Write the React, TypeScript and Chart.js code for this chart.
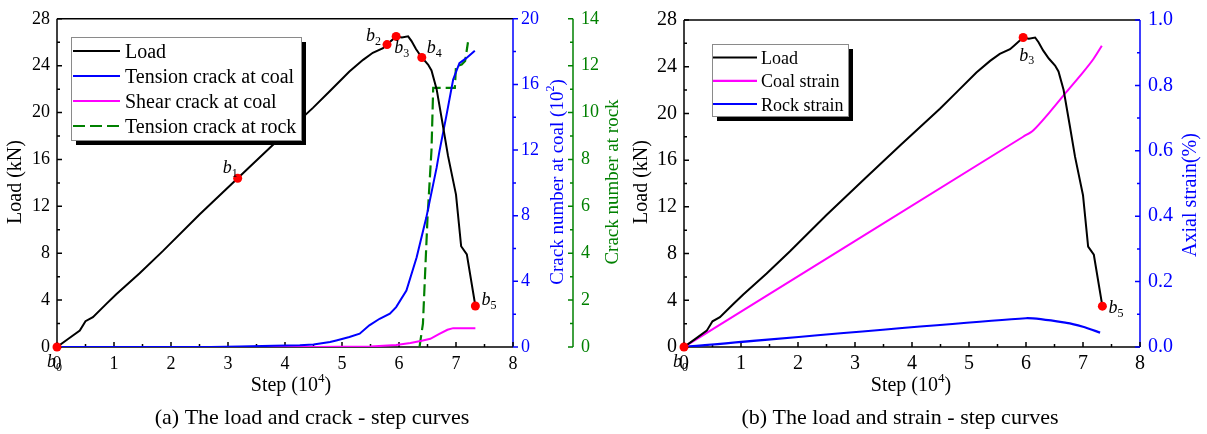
import React, { useEffect, useRef } from "react";
import { Chart, registerables } from "chart.js";

Chart.register(...registerables);

const SERIF = '"Liberation Serif", "Times New Roman", Times, serif';
const BLUE = "#0000ff";
const MAGENTA = "#ff00ff";
const GREEN = "#008000";
const RED = "#ff0000";

// ---------------- data (step in 10^4) ----------------
const loadSteps = [0, 0.2, 0.4, 0.5, 0.63, 0.87, 1.04, 1.45, 1.86, 2.5, 3.17, 3.8, 4.49, 4.78, 5.13, 5.37, 5.54, 5.72, 5.79, 5.95, 6.05, 6.16, 6.22, 6.3, 6.4, 6.51, 6.57, 6.66, 6.77, 6.86, 7.0, 7.09, 7.19, 7.34];
const loadKN = [0, 0.7, 1.4, 2.2, 2.55, 3.7, 4.5, 6.3, 8.2, 11.3, 14.4, 17.3, 20.4, 21.8, 23.5, 24.5, 25.1, 25.5, 25.8, 26.5, 26.4, 26.5, 26.1, 25.4, 24.7, 24.1, 23.6, 22.0, 18.9, 16.3, 13.0, 8.6, 7.9, 3.5];

const coalTensionSteps = [0, 2.7, 3.2, 3.8, 4.26, 4.5, 4.79, 4.9, 5.13, 5.31, 5.48, 5.66, 5.84, 5.95, 6.13, 6.31, 6.48, 6.66, 6.71, 6.83, 6.95, 7.06, 7.18, 7.33];
const coalTensionCount = [0, 0, 0.03, 0.07, 0.1, 0.15, 0.3, 0.4, 0.61, 0.81, 1.32, 1.72, 2.03, 2.43, 3.44, 5.47, 7.9, 10.93, 11.94, 14.07, 16.3, 17.3, 17.6, 18.06];

const coalShearSteps = [0, 4.5, 5.5, 5.95, 6.2, 6.4, 6.55, 6.7, 6.85, 6.95, 7.34];
const coalShearCount = [0, 0, 0.03, 0.12, 0.25, 0.38, 0.5, 0.78, 1.05, 1.15, 1.15];

const rockTensionSteps = [6.36, 6.42, 6.5, 6.57, 6.6, 6.98, 7.0, 7.1, 7.16, 7.21];
const rockTensionCount = [0, 1.0, 5.5, 8.4, 11.05, 11.05, 11.98, 12.05, 12.2, 13.0];

const coalStrainSteps = [0, 5.95, 6.13, 6.42, 6.71, 7.0, 7.18, 7.33];
const coalStrain = [0, 0.643, 0.663, 0.719, 0.78, 0.84, 0.88, 0.921];

const rockStrainSteps = [0, 6.0, 6.71, 7.0, 7.3];
const rockStrain = [0, 0.088, 0.074, 0.062, 0.044];

const keyPointNames = ["0", "1", "2", "3", "4", "5"];
const keyPointSteps = [0, 3.17, 5.79, 5.95, 6.4, 7.34];
const keyPointLoads = [0, 14.4, 25.8, 26.5, 24.7, 3.5];
const rightKeyPoints = [0, 3, 5];

const leftLegendLabels = ["Load", "Tension crack at coal", "Shear crack at coal", "Tension crack at rock"];
const rightLegendLabels = ["Load", "Coal strain", "Rock strain"];

const xy = (xs: number[], ys: number[]) => xs.map((x, i) => ({ x, y: ys[i] }));

// ---------------- drawing helpers ----------------
type Part = { t: string; script?: "sup" | "sub"; italic?: boolean };

function drawRich(ctx: any, parts: Part[], x: number, y: number, size: number, color: string, align: "left" | "center") {
  const small = Math.round(size * 0.65);
  const fontFor = (p: Part) => `${p.italic ? "italic " : ""}${p.script ? small : size}px ${SERIF}`;
  let w = 0;
  const widths = parts.map((p) => {
    ctx.font = fontFor(p);
    const m = ctx.measureText(p.t).width;
    w += m;
    return m;
  });
  let cx = align === "center" ? x - w / 2 : x;
  ctx.fillStyle = color;
  ctx.textAlign = "left";
  ctx.textBaseline = "alphabetic";
  parts.forEach((p, i) => {
    ctx.font = fontFor(p);
    const dy = p.script === "sup" ? -size * 0.45 : p.script === "sub" ? size * 0.22 : 0;
    ctx.fillText(p.t, cx, y + dy);
    cx += widths[i];
  });
}

function drawRotated(ctx: any, parts: Part[], bx: number, cy: number, size: number, color: string) {
  ctx.save();
  ctx.translate(bx, cy);
  ctx.rotate(-Math.PI / 2);
  drawRich(ctx, parts, 0, 0, size, color, "center");
  ctx.restore();
}

function line(ctx: any, x1: number, y1: number, x2: number, y2: number, color: string, w = 1.5) {
  ctx.strokeStyle = color;
  ctx.lineWidth = w;
  ctx.setLineDash([]);
  ctx.beginPath();
  ctx.moveTo(x1, y1);
  ctx.lineTo(x2, y2);
  ctx.stroke();
}

function drawTicks(ctx: any, scale: any, horizontal: boolean, at: number, dir: number, major: number, minor: number, color: string) {
  ctx.strokeStyle = color;
  ctx.lineWidth = 1.5;
  ctx.setLineDash([]);
  const n = Math.round((scale.max - scale.min) / minor);
  ctx.beginPath();
  for (let i = 0; i <= n; i++) {
    const v = scale.min + i * minor;
    const r = v / major;
    const len = Math.abs(r - Math.round(r)) < 1e-6 ? 5 : 3;
    const p = scale.getPixelForValue(v);
    if (horizontal) {
      ctx.moveTo(p, at);
      ctx.lineTo(p, at + dir * len);
    } else {
      ctx.moveTo(at, p);
      ctx.lineTo(at + dir * len, p);
    }
  }
  ctx.stroke();
}

function drawLegend(ctx: any, box: number[], rows: { label: string; color: string; dash?: number[] }[], baselines: number[], lineX: number[], textX: number, size: number) {
  const [bx, by, bw, bh] = box;
  ctx.fillStyle = "#000";
  ctx.fillRect(bx + 5, by + 5, bw, bh);
  ctx.fillStyle = "#fff";
  ctx.fillRect(bx, by, bw, bh);
  ctx.strokeStyle = "#8a8a8a";
  ctx.lineWidth = 1;
  ctx.strokeRect(bx + 0.5, by + 0.5, bw, bh);
  rows.forEach((r, i) => {
    const ly = baselines[i] - 6.5;
    ctx.strokeStyle = r.color;
    ctx.lineWidth = 2.2;
    ctx.setLineDash(r.dash || []);
    ctx.beginPath();
    ctx.moveTo(lineX[0], ly);
    ctx.lineTo(lineX[1], ly);
    ctx.stroke();
    ctx.setLineDash([]);
    drawRich(ctx, [{ t: r.label }], textX, baselines[i], size, "#000", "left");
  });
}

function drawPointLabel(ctx: any, chart: any, idx: number, off: number[]) {
  const px = chart.scales.x.getPixelForValue(keyPointSteps[idx]);
  const py = chart.scales.y.getPixelForValue(keyPointLoads[idx]);
  drawRich(ctx, [{ t: "b", italic: true }, { t: keyPointNames[idx], script: "sub" }], px + off[0], py + off[1], 18, "#000", "left");
}

const noGrid = { display: false, drawTicks: false };
const noBorder = { display: false };

// ---------------- left chart ----------------
const leftLabelOffsets = [[-10, 20], [-15, -5], [-21, -4], [-2, 17], [5, -4], [6, -1]];

const leftDecor = {
  id: "leftDecor",
  beforeDatasetsDraw(chart: any) {
    const ctx = chart.ctx;
    const ca = chart.chartArea;
    const { x, y, y1, y2 } = chart.scales;
    ctx.save();
    line(ctx, ca.left, ca.top, ca.right, ca.top, "#000");
    line(ctx, ca.left, ca.top, ca.left, ca.bottom, "#000");
    line(ctx, ca.left, ca.bottom, ca.right, ca.bottom, "#000");
    line(ctx, ca.right, ca.top, ca.right, ca.bottom, BLUE);
    line(ctx, y2.left, ca.top, y2.left, ca.bottom, GREEN);
    drawTicks(ctx, x, true, ca.bottom, -1, 1, 0.5, "#000");
    drawTicks(ctx, y, false, ca.left, 1, 4, 2, "#000");
    drawTicks(ctx, y1, false, ca.right, 1, 4, 2, BLUE);
    drawTicks(ctx, y2, false, y2.left, -1, 2, 1, GREEN);
    ctx.restore();
  },
  afterDraw(chart: any) {
    const ctx = chart.ctx;
    ctx.save();
    drawRotated(ctx, [{ t: "Load (kN)" }], 21, 182, 20, "#000");
    drawRich(ctx, [{ t: "Step (10" }, { t: "4", script: "sup" }, { t: ")" }], 291, 391, 20, "#000", "center");
    drawRotated(ctx, [{ t: "Crack number at coal (10" }, { t: "2", script: "sup" }, { t: ")" }], 563, 182, 19, BLUE);
    drawRotated(ctx, [{ t: "Crack number at rock" }], 618, 182, 19, GREEN);
    drawLegend(
      ctx,
      [71, 37, 230, 103],
      [
        { label: leftLegendLabels[0], color: "#000" },
        { label: leftLegendLabels[1], color: BLUE },
        { label: leftLegendLabels[2], color: MAGENTA },
        { label: leftLegendLabels[3], color: GREEN, dash: [12, 5] },
      ],
      [57.5, 82.5, 107.5, 132.5],
      [73, 120],
      125,
      20
    );
    keyPointNames.forEach((_, i) => drawPointLabel(ctx, chart, i, leftLabelOffsets[i]));
    drawRich(ctx, [{ t: "(a) The load and crack - step curves" }], 312, 424, 22, "#000", "center");
    ctx.restore();
  },
};

function leftConfig(): any {
  const tickFont = { family: SERIF, size: 18 };
  return {
    type: "line",
    data: {
      datasets: [
        { label: "Key points", data: xy(keyPointSteps, keyPointLoads), yAxisID: "y", showLine: false, pointRadius: 4.5, pointBackgroundColor: RED, pointBorderColor: RED, pointBorderWidth: 0, clip: false, order: -1 },
        { label: leftLegendLabels[0], data: xy(loadSteps, loadKN), yAxisID: "y", borderColor: "#000", borderWidth: 2, pointRadius: 0, tension: 0 },
        { label: leftLegendLabels[1], data: xy(coalTensionSteps, coalTensionCount), yAxisID: "y1", borderColor: BLUE, borderWidth: 2, pointRadius: 0, tension: 0 },
        { label: leftLegendLabels[2], data: xy(coalShearSteps, coalShearCount), yAxisID: "y1", borderColor: MAGENTA, borderWidth: 2, pointRadius: 0, tension: 0 },
        { label: leftLegendLabels[3], data: xy(rockTensionSteps, rockTensionCount), yAxisID: "y2", borderColor: GREEN, borderWidth: 2.2, borderDash: [12, 5], pointRadius: 0, tension: 0 },
      ],
    },
    options: {
      responsive: false,
      animation: false,
      devicePixelRatio: 1,
      events: [],
      layout: { padding: { top: 17, left: 0, right: 0, bottom: 0 } },
      plugins: { legend: { display: false }, tooltip: { enabled: false } },
      scales: {
        x: { type: "linear", position: "bottom", min: 0, max: 8, ticks: { stepSize: 1, color: "#000", font: tickFont, padding: 6, maxRotation: 0 }, grid: noGrid, border: noBorder, afterFit: (s: any) => { s.height = 87; } },
        y: { type: "linear", position: "left", min: 0, max: 28, ticks: { stepSize: 4, color: "#000", font: tickFont, padding: 7 }, grid: noGrid, border: noBorder, afterFit: (s: any) => { s.width = 57; } },
        y1: { type: "linear", position: "right", weight: 0, min: 0, max: 20, ticks: { stepSize: 4, color: BLUE, font: tickFont, padding: 8 }, grid: noGrid, border: noBorder, afterFit: (s: any) => { s.width = 60; } },
        y2: { type: "linear", position: "right", weight: 1, min: 0, max: 14, ticks: { stepSize: 2, color: GREEN, font: tickFont, padding: 8 }, grid: noGrid, border: noBorder, afterFit: (s: any) => { s.width = 53; } },
      },
    },
    plugins: [leftDecor],
  };
}

// ---------------- right chart ----------------
const rightLabelOffsets: Record<number, number[]> = { 0: [-11, 20], 3: [-4, 23], 5: [6, 7] };

const rightDecor = {
  id: "rightDecor",
  beforeDatasetsDraw(chart: any) {
    const ctx = chart.ctx;
    const ca = chart.chartArea;
    const { x, y, y1 } = chart.scales;
    ctx.save();
    line(ctx, ca.left, ca.top, ca.right, ca.top, "#000");
    line(ctx, ca.left, ca.top, ca.left, ca.bottom, "#000");
    line(ctx, ca.left, ca.bottom, ca.right, ca.bottom, "#000");
    line(ctx, ca.right, ca.top, ca.right, ca.bottom, BLUE);
    drawTicks(ctx, x, true, ca.bottom, -1, 1, 0.5, "#000");
    drawTicks(ctx, y, false, ca.left, 1, 4, 2, "#000");
    drawTicks(ctx, y1, false, ca.right, -1, 0.2, 0.1, BLUE);
    ctx.restore();
  },
  afterDraw(chart: any) {
    const ctx = chart.ctx;
    ctx.save();
    drawRotated(ctx, [{ t: "Load (kN)" }], 21, 182, 20, "#000");
    drawRich(ctx, [{ t: "Step (10" }, { t: "4", script: "sup" }, { t: ")" }], 285, 391, 20, "#000", "center");
    drawRotated(ctx, [{ t: "Axial strain(%)" }], 570, 195, 20, BLUE);
    drawLegend(
      ctx,
      [86, 44, 136, 72],
      [
        { label: rightLegendLabels[0], color: "#000" },
        { label: rightLegendLabels[1], color: MAGENTA },
        { label: rightLegendLabels[2], color: BLUE },
      ],
      [64, 87.3, 110.5],
      [87, 131],
      135,
      18
    );
    rightKeyPoints.forEach((i) => drawPointLabel(ctx, chart, i, rightLabelOffsets[i]));
    drawRich(ctx, [{ t: "(b) The load and strain - step curves" }], 274, 424, 22, "#000", "center");
    ctx.restore();
  },
};

function rightConfig(): any {
  const tickFont = { family: SERIF, size: 20 };
  return {
    type: "line",
    data: {
      datasets: [
        { label: "Key points", data: rightKeyPoints.map((i) => ({ x: keyPointSteps[i], y: keyPointLoads[i] })), yAxisID: "y", showLine: false, pointRadius: 4.5, pointBackgroundColor: RED, pointBorderColor: RED, pointBorderWidth: 0, clip: false, order: -1 },
        { label: rightLegendLabels[0], data: xy(loadSteps, loadKN), yAxisID: "y", borderColor: "#000", borderWidth: 2, pointRadius: 0, tension: 0 },
        { label: rightLegendLabels[1], data: xy(coalStrainSteps, coalStrain), yAxisID: "y1", borderColor: MAGENTA, borderWidth: 2, pointRadius: 0, tension: 0.3 },
        { label: rightLegendLabels[2], data: xy(rockStrainSteps, rockStrain), yAxisID: "y1", borderColor: BLUE, borderWidth: 2.2, pointRadius: 0, tension: 0.2 },
      ],
    },
    options: {
      responsive: false,
      animation: false,
      devicePixelRatio: 1,
      events: [],
      layout: { padding: { top: 17, left: 0, right: 0, bottom: 0 } },
      plugins: { legend: { display: false }, tooltip: { enabled: false } },
      scales: {
        x: { type: "linear", position: "bottom", min: 0, max: 8, ticks: { stepSize: 1, color: "#000", font: tickFont, padding: 5, maxRotation: 0 }, grid: noGrid, border: noBorder, afterFit: (s: any) => { s.height = 87; } },
        y: { type: "linear", position: "left", min: 0, max: 28, ticks: { stepSize: 4, color: "#000", font: tickFont, padding: 7 }, grid: noGrid, border: noBorder, afterFit: (s: any) => { s.width = 58; } },
        y1: { type: "linear", position: "right", min: 0, max: 1, ticks: { stepSize: 0.2, color: BLUE, font: tickFont, padding: 8, callback: (v: any) => Number(v).toFixed(1) }, grid: noGrid, border: noBorder, afterFit: (s: any) => { s.width = 67; } },
      },
    },
    plugins: [rightDecor],
  };
}

function ChartCanvas({ makeConfig, left, width, height }: { makeConfig: () => any; left: number; width: number; height: number }) {
  const ref = useRef<HTMLCanvasElement>(null);
  useEffect(() => {
    const chart = new Chart(ref.current as HTMLCanvasElement, makeConfig());
    return () => chart.destroy();
  }, []);
  return <canvas ref={ref} width={width} height={height} style={{ position: "absolute", left, top: 0, width, height, display: "block" }} />;
}

export default function App() {
  return (
    <div style={{ position: "absolute", left: 0, top: 0, width: 1207, height: 434, background: "#fff", overflow: "hidden" }}>
      <ChartCanvas makeConfig={leftConfig} left={0} width={626} height={434} />
      <ChartCanvas makeConfig={rightConfig} left={626} width={581} height={434} />
    </div>
  );
}
